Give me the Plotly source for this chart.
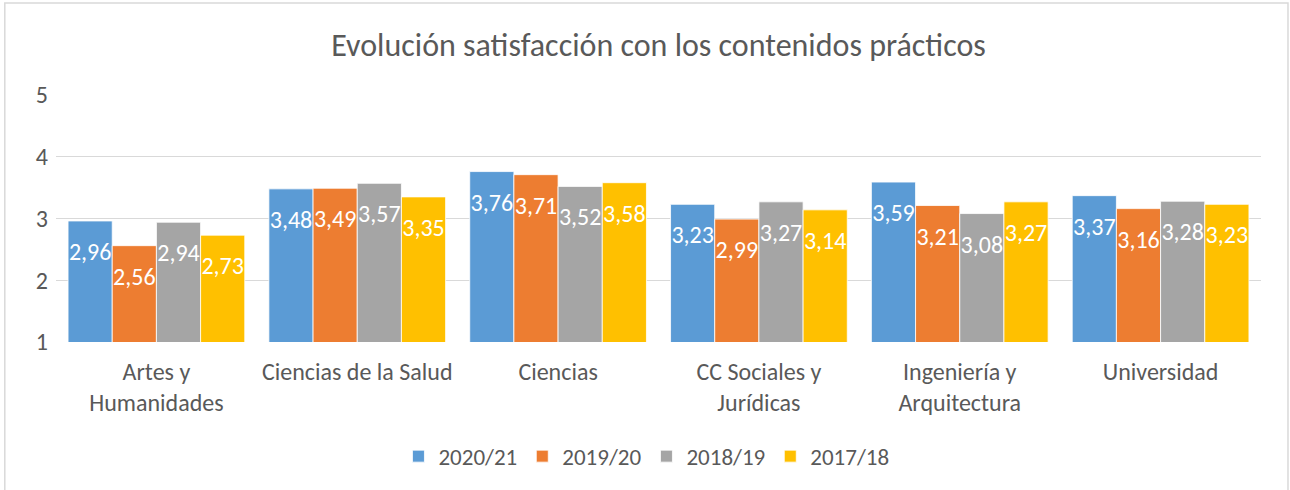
import plotly.graph_objects as go

categorias = ["Artes y<br>Humanidades", "Ciencias de la Salud", "Ciencias",
              "CC Sociales y<br>Jurídicas", "Ingeniería y<br>Arquitectura", "Universidad"]
cursos = ["2020/21", "2019/20", "2018/19", "2017/18"]
v_2020_21 = [2.96, 3.48, 3.76, 3.23, 3.59, 3.37]
v_2019_20 = [2.56, 3.49, 3.71, 2.99, 3.21, 3.16]
v_2018_19 = [2.94, 3.57, 3.52, 3.27, 3.08, 3.28]
v_2017_18 = [2.73, 3.35, 3.58, 3.14, 3.27, 3.23]
colores = ["#5B9BD5", "#ED7D31", "#A5A5A5", "#FFC000"]

FONT = "Calibri, Carlito, Lato, 'Open Sans', sans-serif"
GRIS = "#595959"

fig = go.Figure()
for nombre, vals, col in zip(cursos, [v_2020_21, v_2019_20, v_2018_19, v_2017_18], colores):
    fig.add_trace(go.Bar(x=categorias, y=vals, name=nombre, offsetgroup=nombre,
                         marker=dict(color=col, line=dict(color="white", width=0.8))))
# etiquetas: texto bajo el extremo de cada barra (marcador invisible para el desplazamiento)
for nombre, vals in zip(cursos, [v_2020_21, v_2019_20, v_2018_19, v_2017_18]):
    fig.add_trace(go.Scatter(x=categorias, y=vals, mode="markers+text", offsetgroup=nombre,
                             texttemplate="%{y:.2f}", textposition="bottom center",
                             textfont=dict(family=FONT, size=24, color="white"),
                             marker=dict(size=32, color="rgba(0,0,0,0)"),
                             showlegend=False, hoverinfo="skip", cliponaxis=False))

fig.update_layout(
    width=1290, height=490,
    separators=",.",
    barmode="group", bargap=0.12, bargroupgap=0,
    scattermode="group", scattergap=0.12,
    plot_bgcolor="white", paper_bgcolor="white",
    margin=dict(l=56, r=29, t=95, b=148, autoexpand=False),
    font=dict(family=FONT, color=GRIS, size=22),
    title=dict(text="Evolución satisfacción con los contenidos prácticos",
               x=0.5, xref="paper", xanchor="center", y=0.908, yanchor="middle",
               font=dict(size=32, color=GRIS)),
    xaxis=dict(showgrid=False, showline=False, ticks="", automargin=False,
               tickfont=dict(size=24, color=GRIS), ticklabelstandoff=13),
    yaxis=dict(range=[1, 5], dtick=1, showgrid=True, gridcolor="#D9D9D9", gridwidth=1.3,
               zeroline=False, showline=False, automargin=False,
               tickfont=dict(size=24, color=GRIS), ticklabelstandoff=7),
    legend=dict(orientation="h", x=0.49, xanchor="center", y=0.069, yref="container", yanchor="middle",
                font=dict(size=23, color=GRIS), itemwidth=30, traceorder="normal"),
    shapes=[dict(type="rect", xref="paper", yref="paper", x0=-0.0425, x1=1.0224, y0=-0.65, y1=1.372,
                 line=dict(color="#D9D9D9", width=1.5), fillcolor="rgba(0,0,0,0)", layer="below")],
)
fig.write_html("out.html", config={"displayModeBar": False},
               post_script="document.body.style.margin='0';")
